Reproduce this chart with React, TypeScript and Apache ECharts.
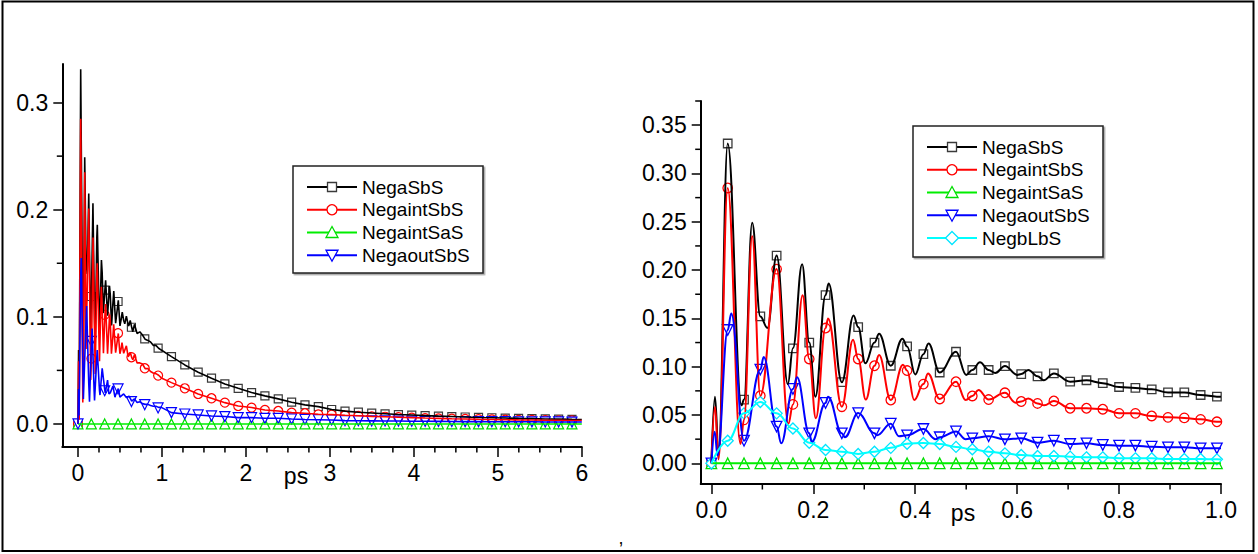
import React, { useEffect, useRef } from "react";
import * as echarts from "echarts";

const FONT = 'Arial, "Liberation Sans", Helvetica, sans-serif';

const seriesNames = ["NegaSbS", "NegaintSbS", "NegaintSaS", "NegaoutSbS", "NegbLbS"];

// ---------- right panel (0 - 1 ps) ----------
const rightMarkStep = 0.032;
const rBlackMarks = [0, 0.331, 0.066, 0.152, 0.215, 0.119, 0.125, 0.174, 0.084, 0.141, 0.125, 0.101, 0.121, 0.113, 0.094, 0.1155, 0.0966, 0.0966, 0.1007, 0.0924, 0.09, 0.093, 0.0845, 0.086, 0.083, 0.079, 0.078, 0.0766, 0.0734, 0.0734, 0.0707, 0.069];
const rRedMarks = [0, 0.285, 0.045, 0.07, 0.201, 0.061, 0.108, 0.14, 0.0586, 0.108, 0.101, 0.0655, 0.096, 0.082, 0.0666, 0.0845, 0.0697, 0.066, 0.073, 0.064, 0.062, 0.0645, 0.057, 0.057, 0.056, 0.0517, 0.0517, 0.049, 0.0476, 0.047, 0.0455, 0.043];
const rGreenMarks = [0, 0, 0, 0, 0, 0, 0, 0, 0, 0, 0, 0, 0, 0, 0, 0, 0, 0, 0, 0, 0, 0, 0, 0, 0, 0, 0, 0, 0, 0, 0, 0];
const rBlueMarks = [0, 0.138, 0.0234, 0.097, 0.038, 0.077, 0.031, 0.0625, 0.031, 0.052, 0.031, 0.041, 0.029, 0.0355, 0.027, 0.033, 0.0259, 0.028, 0.0248, 0.0259, 0.0214, 0.0234, 0.02, 0.0207, 0.019, 0.0183, 0.0183, 0.0172, 0.0166, 0.0166, 0.0155, 0.0155];
const rCyanMarks = [0, 0.0234, 0.0517, 0.0635, 0.0517, 0.036, 0.0213, 0.0138, 0.012, 0.0097, 0.012, 0.016, 0.0203, 0.021, 0.02, 0.017, 0.0145, 0.012, 0.0103, 0.0086, 0.0076, 0.0076, 0.0069, 0.0062, 0.0062, 0.0052, 0.0052, 0.0052, 0.0045, 0.0045, 0.0045, 0.0041];

// extra curve points (peaks / troughs) between markers: [ps, value]
const rBlackExtra = [[0.007, 0.069], [0.014, 0.01], [0.059, 0.06], [0.08, 0.249], [0.11, 0.14], [0.15, 0.082], [0.178, 0.206], [0.204, 0.069], [0.23, 0.186], [0.279, 0.153], [0.302, 0.1035], [0.329, 0.134], [0.375, 0.129], [0.4, 0.092], [0.426, 0.124], [0.5, 0.0915], [0.527, 0.1045], [0.557, 0.0935], [0.6, 0.0915], [0.622, 0.0966], [0.652, 0.086], [1.0, 0.0688]];
const rRedExtra = [[0.007, 0.0586], [0.014, 0.004], [0.057, 0.02], [0.08, 0.235], [0.151, 0.041], [0.179, 0.174], [0.205, 0.0466], [0.229, 0.15], [0.278, 0.128], [0.303, 0.066], [0.329, 0.112], [0.376, 0.102], [0.398, 0.0655], [0.425, 0.093], [0.499, 0.0655], [0.524, 0.076], [0.597, 0.0628], [0.622, 0.067], [0.653, 0.06], [1.0, 0.043]];
const rGreenExtra = [[1.0, 0]];
const rBlueExtra = [[0.0065, 0.0327], [0.012, 0.008], [0.039, 0.155], [0.1026, 0.11], [0.137, 0.0207], [0.168, 0.089], [0.197, 0.022], [0.229, 0.069], [0.262, 0.027], [0.325, 0.029], [0.368, 0.028], [0.44, 0.025], [0.499, 0.025], [1.0, 0.0155]];
const rCyanExtra = [[1.0, 0.004]];

// ---------- left panel (0 - 6 ps) ----------
const leftMarkStep = 0.159;
const lBlackMarks = [0, 0.119, 0.125, 0.1143, 0.0903, 0.0794, 0.0707, 0.0629, 0.0551, 0.0483, 0.0427, 0.0374, 0.0333, 0.0293, 0.0262, 0.0234, 0.0203, 0.0178, 0.0162, 0.0135, 0.012, 0.011, 0.0102, 0.0095, 0.0088, 0.0083, 0.0078, 0.0073, 0.0069, 0.0065, 0.0061, 0.0058, 0.0055, 0.0052, 0.005, 0.0047, 0.0045, 0.0043];
const lRedMarks = [0, 0.061, 0.1019, 0.0847, 0.0623, 0.052, 0.0452, 0.0386, 0.0333, 0.028, 0.024, 0.0199, 0.0168, 0.0153, 0.0131, 0.0121, 0.0106, 0.01, 0.009, 0.0087, 0.0081, 0.0076, 0.0071, 0.0067, 0.0063, 0.0059, 0.0055, 0.0052, 0.0049, 0.0047, 0.0044, 0.0042, 0.004, 0.0038, 0.0037, 0.0035, 0.0034, 0.0033];
const lGreenMarks = [0, 0, 0, 0, 0, 0, 0, 0, 0, 0, 0, 0, 0, 0, 0, 0, 0, 0, 0, 0, 0, 0, 0, 0, 0, 0, 0, 0, 0, 0, 0, 0, 0, 0, 0, 0, 0, 0];
const lBlueMarks = [0, 0.077, 0.031, 0.0327, 0.0209, 0.018, 0.015, 0.0106, 0.0093, 0.0084, 0.0075, 0.0069, 0.0059, 0.0059, 0.0053, 0.0053, 0.0047, 0.0042, 0.004, 0.0037, 0.0031, 0.003, 0.0029, 0.0028, 0.0027, 0.0026, 0.0025, 0.0024, 0.0023, 0.0022, 0.0022, 0.0021, 0.0021, 0.002, 0.002, 0.0019, 0.0019, 0.0018];
const lEndValues = [0.0042, 0.0032, 0, 0.0018];

// ---------- ticks ----------
const leftXTicks = [0, 1, 2, 3, 4, 5, 6];
const leftXMinor = [0.25, 0.5, 0.75, 1.25, 1.5, 1.75, 2.25, 2.5, 2.75, 3.25, 3.5, 3.75, 4.25, 4.5, 4.75, 5.25, 5.5, 5.75];
const leftYTicks = [0, 0.1, 0.2, 0.3];
const leftYMinor = [0.05, 0.15, 0.25];
const rightXTicks = [0, 0.2, 0.4, 0.6, 0.8, 1.0];
const rightXMinor = [0.1, 0.3, 0.5, 0.7, 0.9];
const rightYTicks = [0, 0.05, 0.1, 0.15, 0.2, 0.25, 0.3, 0.35];
const rightYMinor = [0.025, 0.075, 0.125, 0.175, 0.225, 0.275, 0.325, 0.375];

const LX = [-0.187, 6];
const LY = [-0.0215, 0.336];
const RX = [-0.021, 1.0];
const RY = [-0.0214, 0.375];

const styles = [
  { color: "#000000", border: "#3a3a3a", symbol: "rect", size: 8.5, rot: 0 },
  { color: "#ff0000", border: "#ff0000", symbol: "circle", size: 9.5, rot: 0 },
  { color: "#00ee00", border: "#00dd00", symbol: "triangle", size: 10.5, rot: 0 },
  { color: "#0000ff", border: "#0000ff", symbol: "triangle", size: 10.5, rot: 180 },
  { color: "#00ffff", border: "#00e5ff", symbol: "diamond", size: 11, rot: 0 },
];

function markPoints(marks: number[], step: number) {
  return marks.map((v, i) => [+(i * step).toFixed(4), v]);
}
function buildLine(marks: number[], step: number, extra: number[][]) {
  const pts = markPoints(marks, step).concat(extra);
  pts.sort((a, b) => a[0] - b[0]);
  return pts;
}

const rMarks = [rBlackMarks, rRedMarks, rGreenMarks, rBlueMarks, rCyanMarks];
const rExtra = [rBlackExtra, rRedExtra, rGreenExtra, rBlueExtra, rCyanExtra];
const lMarks = [lBlackMarks, lRedMarks, lGreenMarks, lBlueMarks];

function legendGraphics(x0: number, y0: number, count: number, boxW: number, boxH: number) {
  const els: any[] = [];
  els.push({
    type: "rect",
    shape: { x: x0, y: y0, width: boxW, height: boxH },
    style: { fill: "#fff", stroke: "#222", lineWidth: 1.5, shadowColor: "rgba(0,0,0,0.35)", shadowOffsetX: 1.5, shadowOffsetY: 1.5, shadowBlur: 0 },
    z: 50,
  });
  for (let i = 0; i < count; i++) {
    const cy = y0 + 21 + i * 22.75;
    const lx1 = x0 + 14;
    const lx2 = x0 + 64;
    const cx = (lx1 + lx2) / 2;
    const st = styles[i];
    els.push({ type: "line", shape: { x1: lx1, y1: cy, x2: lx2, y2: cy }, style: { stroke: st.color, lineWidth: 2 }, z: 51 });
    const ms = { fill: "#fff", stroke: st.border, lineWidth: 1.3 };
    if (st.symbol === "rect") {
      els.push({ type: "rect", shape: { x: cx - 4.5, y: cy - 4.5, width: 9, height: 9 }, style: ms, z: 52 });
    } else if (st.symbol === "circle") {
      els.push({ type: "circle", shape: { cx, cy, r: 5 }, style: ms, z: 52 });
    } else if (st.symbol === "triangle" && st.rot === 0) {
      els.push({ type: "polygon", shape: { points: [[cx, cy - 6], [cx + 6, cy + 5], [cx - 6, cy + 5]] }, style: ms, z: 52 });
    } else if (st.symbol === "triangle") {
      els.push({ type: "polygon", shape: { points: [[cx - 6, cy - 5], [cx + 6, cy - 5], [cx, cy + 6]] }, style: ms, z: 52 });
    } else {
      els.push({ type: "polygon", shape: { points: [[cx, cy - 6.5], [cx + 6.5, cy], [cx, cy + 6.5], [cx - 6.5, cy]] }, style: ms, z: 52 });
    }
    els.push({
      type: "text",
      x: lx2 + 5,
      y: cy,
      style: { text: seriesNames[i], fontSize: 19, fontFamily: FONT, fill: "#000", align: "left", verticalAlign: "middle" },
      z: 52,
    });
  }
  return els;
}

function axisBase(extra: any) {
  return Object.assign(
    {
      type: "value",
      splitLine: { show: false },
      axisLine: { show: true, onZero: false, lineStyle: { color: "#000", width: 2 } },
    },
    extra
  );
}

// minor ticks drawn through the axis scales with a custom series
function minorTickSeries(axisIdx: number, values: number[], dir: "x" | "y", otherMin: number) {
  return {
    type: "custom",
    xAxisIndex: axisIdx,
    yAxisIndex: axisIdx,
    clip: false,
    silent: true,
    z: 5,
    data: values.map((v) => [v]),
    renderItem: (params: any, api: any) => {
      const v = api.value(0);
      if (dir === "x") {
        const p = api.coord([v, otherMin]);
        return { type: "line", shape: { x1: p[0], y1: p[1], x2: p[0], y2: p[1] + 5.5 }, style: { stroke: "#000", lineWidth: 1.5 } };
      }
      const p = api.coord([otherMin, v]);
      return { type: "line", shape: { x1: p[0] - 5.5, y1: p[1], x2: p[0], y2: p[1] }, style: { stroke: "#000", lineWidth: 1.5 } };
    },
  };
}

export default function App() {
  const ref = useRef<HTMLDivElement>(null);
  useEffect(() => {
    if (!ref.current) return;
    const chart = echarts.init(ref.current, undefined, { renderer: "svg" });
    const labelStyle = { fontSize: 23, fontFamily: FONT, color: "#000", margin: 14 };
    const tickStyle = { color: "#000", width: 1.5 };

    const xAxis = [
      axisBase({ gridIndex: 0, position: "bottom", min: LX[0], max: LX[1], axisTick: { show: true, length: 10, customValues: leftXTicks, lineStyle: tickStyle }, axisLabel: { ...labelStyle, customValues: leftXTicks, formatter: (v: number) => String(Math.round(v)) } }),
      axisBase({ gridIndex: 1, position: "bottom", min: RX[0], max: RX[1], axisTick: { show: true, length: 10, customValues: rightXTicks, lineStyle: tickStyle }, axisLabel: { ...labelStyle, customValues: rightXTicks, formatter: (v: number) => v.toFixed(1) } }),
    ];
    const yAxis = [
      axisBase({ gridIndex: 0, position: "left", min: LY[0], max: LY[1], axisTick: { show: true, length: 9, customValues: leftYTicks, lineStyle: tickStyle }, axisLabel: { ...labelStyle, customValues: leftYTicks, formatter: (v: number) => v.toFixed(1) } }),
      axisBase({ gridIndex: 1, position: "left", min: RY[0], max: RY[1], axisTick: { show: true, length: 9, customValues: rightYTicks, lineStyle: tickStyle }, axisLabel: { ...labelStyle, customValues: rightYTicks, formatter: (v: number) => v.toFixed(2) } }),
    ];

    const series: any[] = [
      minorTickSeries(0, leftXMinor, "x", LY[0]),
      minorTickSeries(0, leftYMinor, "y", LX[0]),
      minorTickSeries(1, rightXMinor, "x", RY[0]),
      minorTickSeries(1, rightYMinor, "y", RX[0]),
    ];
    // left panel
    for (let i = 0; i < 4; i++) {
      const st = styles[i];
      const dense = buildLine(rMarks[i], rightMarkStep, rExtra[i]).filter((p) => p[0] <= 1.0);
      const tail = markPoints(lMarks[i], leftMarkStep).filter((p) => p[0] > 1.0);
      const lineData = dense.concat(tail).concat([[6, lEndValues[i]]]);
      series.push({
        type: "line", name: seriesNames[i], xAxisIndex: 0, yAxisIndex: 0, data: lineData,
        symbol: "none", showSymbol: false, smooth: false, silent: true,
        lineStyle: { color: st.color, width: 1.6 }, itemStyle: { color: st.color },
      });
      series.push({
        type: "scatter", name: seriesNames[i], xAxisIndex: 0, yAxisIndex: 0, data: markPoints(lMarks[i], leftMarkStep),
        symbol: st.symbol, symbolSize: st.size - 0.5, symbolRotate: st.rot, silent: true,
        itemStyle: { color: "#fff", borderColor: st.border, borderWidth: 1.2, opacity: 1 },
      });
    }
    // right panel
    for (let i = 0; i < 5; i++) {
      const st = styles[i];
      series.push({
        type: "line", name: seriesNames[i], xAxisIndex: 1, yAxisIndex: 1, data: buildLine(rMarks[i], rightMarkStep, rExtra[i]),
        symbol: "none", showSymbol: false, smooth: 0.4, smoothMonotone: "x", silent: true,
        lineStyle: { color: st.color, width: 2 }, itemStyle: { color: st.color },
      });
      series.push({
        type: "scatter", name: seriesNames[i], xAxisIndex: 1, yAxisIndex: 1, data: markPoints(rMarks[i], rightMarkStep),
        symbol: st.symbol, symbolSize: st.size, symbolRotate: st.rot, silent: true,
        itemStyle: { color: "#fff", borderColor: st.border, borderWidth: 1.3, opacity: 1 },
      });
    }

    const graphic: any[] = [
      { type: "rect", shape: { x: 2.5, y: 1.5, width: 1251, height: 549.5 }, style: { fill: "none", stroke: "#000", lineWidth: 2 }, z: 100 },
      { type: "text", x: 296, y: 476, style: { text: "ps", fontSize: 23, fontFamily: FONT, fill: "#000", align: "center", verticalAlign: "middle" }, z: 60 },
      { type: "text", x: 963, y: 513, style: { text: "ps", fontSize: 23, fontFamily: FONT, fill: "#000", align: "center", verticalAlign: "middle" }, z: 60 },
      { type: "text", x: 621, y: 538, style: { text: ",", fontSize: 18, fontFamily: FONT, fill: "#000", align: "center", verticalAlign: "middle" }, z: 60 },
      ...legendGraphics(293, 166, 4, 190, 107),
      ...legendGraphics(913, 126, 5, 190, 131),
    ];

    chart.setOption({
      animation: false,
      backgroundColor: "#fff",
      grid: [
        { left: 62.3, top: 64, width: 519.5, height: 383, containLabel: false },
        { left: 700.7, top: 101, width: 520.3, height: 383, containLabel: false },
      ],
      xAxis,
      yAxis,
      series,
      graphic,
    });
    return () => chart.dispose();
  }, []);
  return <div ref={ref} style={{ position: "absolute", left: 0, top: 0, width: 1258, height: 554 }} />;
}
